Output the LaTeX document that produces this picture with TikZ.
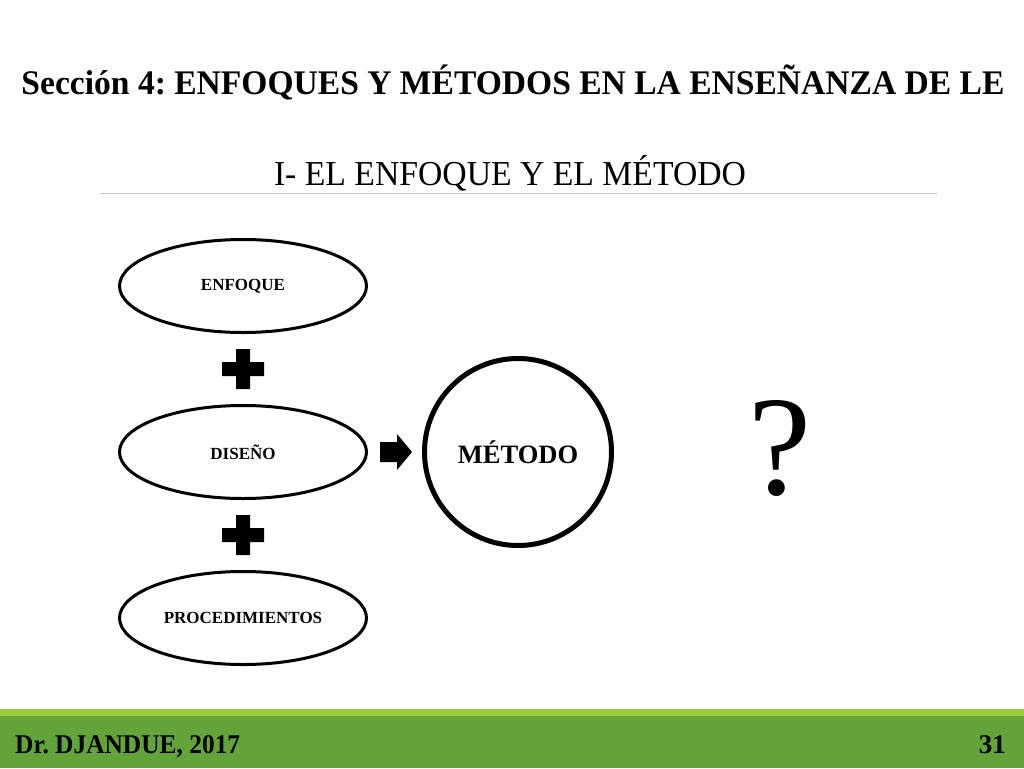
\documentclass[tikz,border=0pt]{standalone}
\usepackage{fontspec}
\setmainfont{Liberation Serif}
\usetikzlibrary{shapes.geometric}
\definecolor{slidegreen}{HTML}{62A439}
\definecolor{stripgreen}{HTML}{9CCB3D}
\frenchspacing
\tikzset{
	oval/.style={draw=black,shape=ellipse,line width=3pt,minimum width=247pt,minimum height=93pt,inner sep=0pt,font=\bfseries\fontsize{17}{18}\selectfont},
	bigring/.style={draw=black,shape=circle,line width=5pt,minimum size=187pt,inner sep=0pt,font=\bfseries\fontsize{26.5}{30}\selectfont},
	blackshape/.style={fill=black,draw=none}
}

\begin{document}
\begin{tikzpicture}[x=1pt,y=-1pt]
\useasboundingbox (0,0) rectangle (1024,768);
\fill[white] (0,0) rectangle (1024,768);
% titles
\node (titulo) [anchor=base,inner sep=0pt] at (513,95) {\resizebox{983pt}{\height}{\bfseries\fontsize{34.5}{38}\selectfont Sección 4: ENFOQUES Y MÉTODOS EN LA ENSEÑANZA DE LE}};
\node (subtitulo) [anchor=base,inner sep=0pt] at (510,185) {\resizebox{472pt}{\height}{\fontsize{35}{38}\selectfont I- EL ENFOQUE Y EL MÉTODO}};
\draw[gray!50,line width=1pt] (100,193.5) -- (937,193.5);
% the three parts
\node (enfoque) [oval] at (243,286) {ENFOQUE};
\node (diseno) [oval] at (243,452) {DISEÑO};
\node (proced) [oval] at (243,618) {PROCEDIMIENTOS};
\node (metodo) [bigring] at (518,452) {MÉTODO};
\node (pregunta) [inner sep=0pt,font=\fontsize{142}{150}\selectfont] at (780,448) {?};
% plus signs and arrow
\foreach \py in {369,535}
	\fill[blackshape] (236,\py-20) -- ++(14,0) -- ++(0,13) -- ++(14,0) -- ++(0,14) -- ++(-14,0)
		-- ++(0,13) -- ++(-14,0) -- ++(0,-13) -- ++(-14,0) -- ++(0,-14) -- ++(14,0) -- cycle;
\fill[blackshape] (380,442) -- (397,442) -- (397,434) -- (412,452) -- (397,470) -- (397,462) -- (380,462) -- cycle;
% footer
\fill[stripgreen] (0,709) rectangle (1024,716);
\fill[slidegreen] (0,716) rectangle (1024,768);
\node (autor) [anchor=base west,inner sep=0pt] at (15,753) {\resizebox{225pt}{\height}{\bfseries\fontsize{27}{30}\selectfont Dr. DJANDUE, 2017}};
\node (pagina) [anchor=base east,inner sep=0pt] at (1006,753) {\bfseries\fontsize{27}{30}\selectfont 31};
\end{tikzpicture}
\end{document}
